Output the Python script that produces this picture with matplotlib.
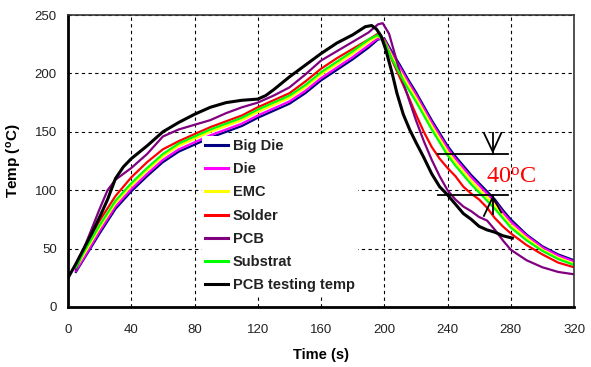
import matplotlib
matplotlib.use('Agg')
import matplotlib.pyplot as plt

plt.rcParams['font.family'] = 'Liberation Sans'

# time axis shared by the package curves (s)
t_pkg = [5, 10, 20, 30, 40, 50, 60, 70, 80, 90, 100, 110, 120, 130, 140, 150, 160, 170, 180, 190,
         196, 200, 205, 210, 215, 220, 225, 230, 235, 240, 245, 250, 255, 260, 265, 270, 275, 280,
         290, 300, 310, 320]

big_die = [30, 41, 63, 84, 99, 112, 124, 133, 139, 145, 150, 155, 162, 168, 174, 183, 194, 203, 212, 222,
           229, 230, 218, 207, 195, 184, 172, 160, 149, 138, 129, 121, 113, 106, 99, 92, 83, 75,
           62, 52, 45, 40]
die = [31, 42, 65, 86, 101, 114, 126, 135, 141, 147, 152, 157, 164, 170, 176, 185, 196, 205, 214, 224,
       230, 229, 216, 205, 193, 182, 170, 158, 147, 136, 127, 119, 111, 104, 97, 90, 81, 73,
       61, 51, 44, 39]
emc = [33, 45, 68, 89, 104, 117, 129, 138, 144, 150, 155, 160, 167, 173, 179, 188, 199, 208, 217, 227,
       232, 228, 214, 202, 190, 179, 167, 155, 144, 133, 124, 116, 108, 101, 94, 87, 78, 70,
       59, 49, 42, 37]
solder = [37, 50, 74, 95, 111, 124, 135, 142, 148, 154, 159, 164, 171, 177, 183, 193, 204, 213, 221, 229,
          234, 228, 211, 196, 181, 165, 150, 137, 127, 119, 112, 103, 97, 92, 85, 76, 69, 63,
          53, 45, 38, 34]
substrat = [34, 47, 70, 91, 106, 119, 131, 140, 146, 152, 157, 162, 169, 175, 181, 190, 201, 210, 219, 229,
            233, 227, 212, 199, 187, 176, 164, 152, 141, 130, 121, 113, 105, 98, 91, 84, 76, 68,
            57, 48, 41, 36]

t_pcb = [5, 10, 15, 20, 25, 30, 40, 50, 60, 70, 80, 90, 100, 110, 120, 130, 140, 150, 160, 170, 180,
         190, 196, 199, 203, 207, 210, 215, 220, 225, 230, 235, 240, 245, 250, 255, 260, 265, 270,
         275, 280, 290, 300, 310, 320]
pcb = [32, 50, 67, 84, 100, 109, 119, 131, 146, 152, 156, 160, 166, 171, 175, 181, 188, 199, 211, 219, 227,
       235, 242, 243, 234, 215, 200, 180, 160, 142, 126, 112, 100, 92, 86, 82, 77, 74, 66,
       57, 49, 40, 34, 30, 28]

t_test = [0, 5, 10, 15, 20, 25, 30, 35, 40, 50, 60, 70, 80, 90, 100, 110, 120, 125, 130, 140, 150, 160,
          170, 180, 188, 192, 195, 198, 201, 205, 208, 212, 216, 220, 225, 230, 235, 240, 245, 250,
          255, 260, 265, 270, 275, 281]
pcb_test = [25, 37, 50, 63, 77, 92, 110, 120, 127, 138, 150, 158, 165, 171, 175, 177, 178, 181, 186, 197,
            207, 217, 226, 233, 240, 241, 238, 232, 220, 200, 183, 165, 152, 141, 128, 114, 103, 96,
            88, 80, 75, 69, 66, 64, 61, 59]

# 40 degC marker
band_t = [234, 278]
band_top, band_bottom = 131, 96
arrow_t = [263, 268.6, 274]

fig = plt.figure(figsize=(5.91, 3.67), dpi=100)
ax = fig.add_axes([0.1151, 0.1635, 0.8562, 0.7956])

ax.plot(t_pkg, big_die, color='#000080', lw=1.6, label='Big Die')
ax.plot(t_pkg, die, color='#ff00ff', lw=1.6, label='Die')
ax.plot(t_pkg, emc, color='#ffff00', lw=1.6, label='EMC')
ax.plot(t_pkg, solder, color='#ff0000', lw=1.6, label='Solder')
ax.plot(t_pcb, pcb, color='#800080', lw=1.6, label='PCB')
ax.plot(t_pkg, substrat, color='#00ff00', lw=1.6, label='Substrat')
ax.plot(t_test, pcb_test, color='black', lw=2.2, label='PCB testing temp')

# annotation: 40 degC gap
ax.plot(band_t, [band_top, band_top], color='black', lw=1.3)
ax.plot(band_t, [band_bottom, band_bottom], color='black', lw=1.3)
ax.plot(arrow_t, [band_top + 18, band_top + 2, band_top + 18], color='black', lw=1.3)
ax.plot([arrow_t[1], arrow_t[1]], [band_top + 18, band_top], color='black', lw=1.3)
ax.plot(arrow_t, [band_bottom - 18, band_bottom - 2, band_bottom - 15], color='black', lw=1.3)
ax.plot([arrow_t[1], arrow_t[1]], [band_bottom - 16, band_bottom], color='black', lw=1.3)
ax.text(264.5, 106, '40$\\mathregular{^o}$C', color='red', fontsize=17.5,
        family='Liberation Serif', ha='left', va='baseline')

ax.set_xlim(0, 320)
ax.set_ylim(0, 250)
ax.set_xticks(range(0, 321, 40))
ax.set_yticks(range(0, 251, 50))
ax.grid(True, color='black', lw=0.8, linestyle=(0, (3, 3)))
ax.set_axisbelow(True)
ax.tick_params(length=0, labelsize=9.5, labelcolor='#222222')
ax.tick_params(axis='x', pad=12)
ax.tick_params(axis='y', pad=8)

for side in ['left', 'bottom']:
    ax.spines[side].set_linewidth(2)
    ax.spines[side].set_color('black')
for side in ['top', 'right']:
    ax.spines[side].set_linewidth(1.2)
    ax.spines[side].set_color('#333333')

ax.set_xlabel('Time (s)', fontsize=10.5, fontweight='bold', labelpad=9)
ax.set_ylabel('Temp ($\\mathregular{^o}$C)', fontsize=11, fontweight='bold', labelpad=8)

leg = ax.legend(loc='upper left', bbox_to_anchor=(0.265, 0.585), borderaxespad=0, borderpad=0.2,
                frameon=True, fancybox=False, framealpha=1, edgecolor='none', facecolor='white',
                handlelength=1.58, handletextpad=0.32, labelspacing=0.63,
                prop={'weight': 'bold', 'size': 10.5})
for line in leg.get_lines():
    line.set_linewidth(2.2)
for txt in leg.get_texts():
    txt.set_color('#222222')

fig.savefig('out.png', dpi=100)
